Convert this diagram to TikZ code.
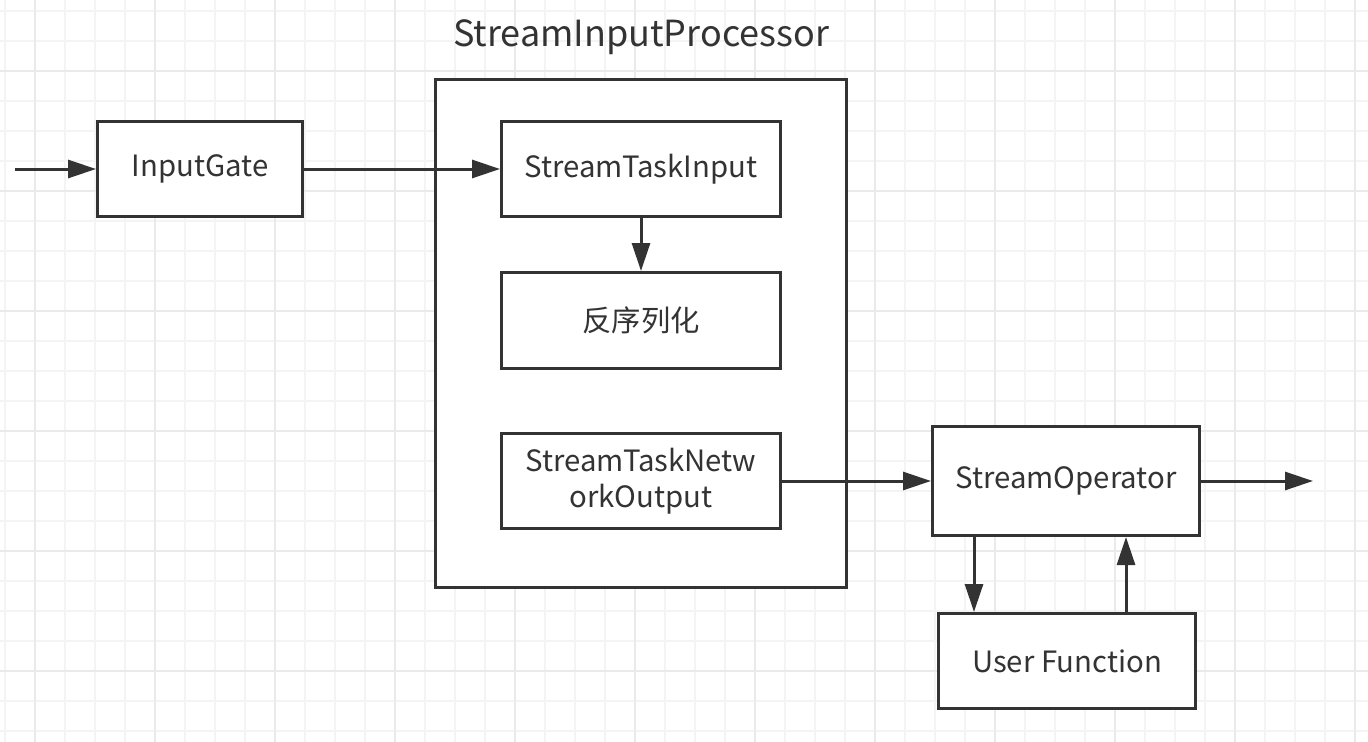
\documentclass[tikz,border=0pt]{standalone}
\usepackage{fontspec}
\setmainfont{Noto Sans CJK SC}
\usetikzlibrary{arrows.meta,positioning}
\definecolor{ink}{HTML}{333333}
\definecolor{gridminor}{HTML}{F4F4F4}
\definecolor{gridmajor}{HTML}{EAEAEA}
\tikzset{
  blk/.style={draw=ink, line width=2.25pt, fill=white, inner sep=0pt,
    text=ink, align=center, font=\fontsize{22}{27}\selectfont},
  flow/.style={draw=ink, line width=2.25pt,
    -{Triangle[length=21pt,width=13.5pt]}},
}
\begin{document}
\begin{tikzpicture}[x=0.75pt,y=-0.75pt]
  \useasboundingbox (0,0) rectangle (1368,742);
  % background grid
  \foreach \gx in {5,35,...,1368} \draw[gridminor,line width=1.5pt] (\gx,0) -- (\gx,742);
  \foreach \gy in {11,41,...,742} \draw[gridminor,line width=1.5pt] (0,\gy) -- (1368,\gy);
  \foreach \gx in {35,155,...,1368} \draw[gridmajor,line width=1.5pt] (\gx,0) -- (\gx,742);
  \foreach \gy in {71,191,...,742} \draw[gridmajor,line width=1.5pt] (0,\gy) -- (1368,\gy);

  % processor frame
  \node[blk, minimum width=411*0.75pt, minimum height=508*0.75pt] (proc) at (641,333.5) {};
  \node[text=ink, font=\fontsize{27}{32}\selectfont] (proctitle) at (641,37) {StreamInputProcessor};

  \node[blk, minimum width=205*0.75pt, minimum height=95*0.75pt] (gate) at (200,169) {InputGate};
  \node[blk, minimum width=279*0.75pt, minimum height=95*0.75pt] (taskin) at (641,169) {StreamTaskInput};
  \node[blk, minimum width=279*0.75pt, minimum height=96*0.75pt] (deser) at (641,320.5) {反序列化};
  \node[blk, minimum width=279*0.75pt, minimum height=95*0.75pt] (netout) at (641,481) {StreamTaskNetw\\orkOutput};
  \node[blk, minimum width=267*0.75pt, minimum height=109*0.75pt] (oper) at (1066,481) {StreamOperator};
  \node[blk, minimum width=257*0.75pt, minimum height=95*0.75pt] (userfn) at (1067,661) {User Function};

  \coordinate (src) at (15,169);
  \coordinate (sink) at (1313,481);
  \coordinate (callx) at (974,0);
  \coordinate (retx) at (1126,0);

  \draw[flow] (src) -- (gate);
  \draw[flow] (gate) -- (taskin);
  \draw[flow] (taskin) -- (deser);
  \draw[flow] (netout) -- (oper);
  \draw[flow] (oper) -- (sink);
  \draw[flow] (oper.south -| callx) -- (userfn.north -| callx);
  \draw[flow] (userfn.north -| retx) -- (oper.south -| retx);
\end{tikzpicture}
\end{document}
